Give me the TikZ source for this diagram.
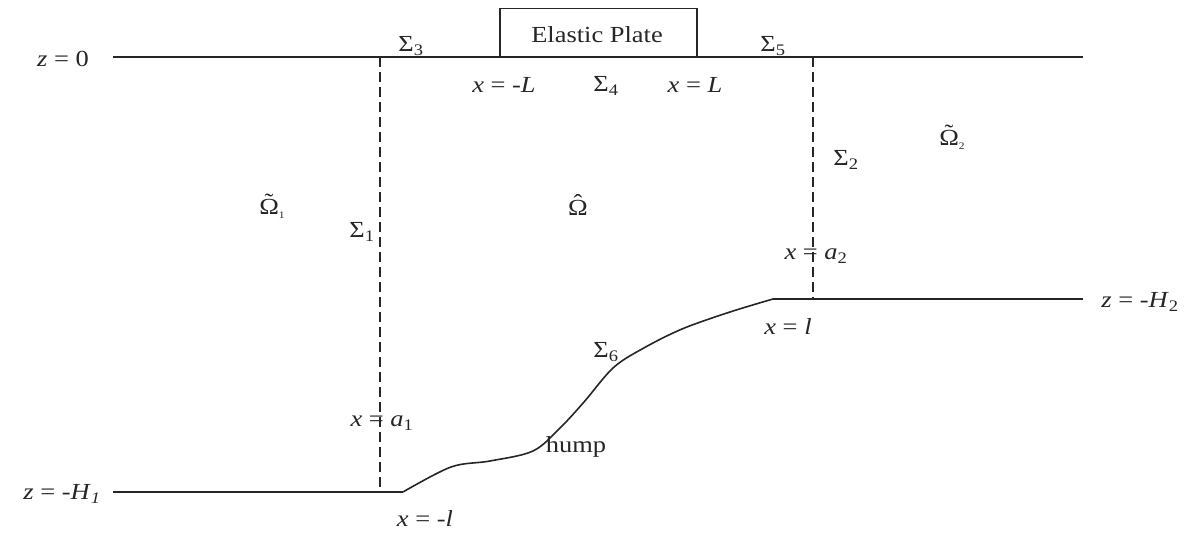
\documentclass[tikz,border=0pt]{standalone}
\usepackage{fontspec}
\setmainfont{Liberation Serif}[FakeStretch=1.15]
\usepackage{tikz}

\definecolor{ink}{gray}{0.15}
\newcommand{\vr}[1]{\textit{#1}}
\newcommand{\accOm}[1]{\ooalign{Ω\cr\hidewidth\raisebox{5pt}{#1}\hidewidth\cr}}
\newcommand{\dom}[1]{\accOm{˜}\raisebox{-4pt}{\fontsize{10}{10}\selectfont #1}}

\begin{document}
\begin{tikzpicture}[x=1pt,y=-1pt,
  every node/.style={font=\fontsize{23}{27}\selectfont, text=ink, inner sep=0pt},
  wall/.style={draw=ink, line width=1.6pt},
  cut/.style={draw=ink, line width=1.5pt, dash pattern=on 10pt off 5pt}]
  \useasboundingbox (0,0) rectangle (1199,537);
  \coordinate (TL) at (113,57);
  \coordinate (TR) at (1083,57);
  \coordinate (A1) at (380,57);
  \coordinate (A2) at (813,57);
  \coordinate (BL) at (113,492);
  \coordinate (K1) at (403,492);
  \coordinate (B1) at (380,492);
  \coordinate (K2) at (773,299);
  \coordinate (B2) at (813,299);
  \coordinate (BR) at (1083,299);
  \draw[wall] (TL) -- (TR);
  \node[draw=ink, line width=1.2pt, minimum width=197pt, minimum height=48pt, anchor=south] (plate) at (598.5,57) {};
  \node at (597,35) {Elastic Plate};
  \draw[cut] (A1) -- (B1);
  \draw[cut] (A2) -- (B2);
  \draw[wall] (BL) -- (K1);
  \draw[wall] plot[smooth, tension=0.55] coordinates {(403,492) (451,467) (490,461) (533,451) (560,428) (584,402) (613,368) (642,349) (682,329) (730,312) (773,299)};
  \draw[wall] (K2) -- (BR);
  \node at (63,59) {\vr{z} = 0};
  \node at (62,494) {\vr{z} = -\vr{H}\textsubscript{\textit{1}}};
  \node at (1140,302) {\vr{z} = -\vr{H}\textsubscript{2}};
  \node at (411,46) {Σ\textsubscript{3}};
  \node at (773,46) {Σ\textsubscript{5}};
  \node at (504,85) {\vr{x} = -\vr{L}};
  \node at (606,86) {Σ\textsubscript{4}};
  \node at (695,85) {\vr{x} = \vr{L}};
  \node at (846,160) {Σ\textsubscript{2}};
  \node at (952,140) {\dom{2}};
  \node at (272,209) {\dom{1}};
  \node at (362,232) {Σ\textsubscript{1}};
  \node at (578,208) {\accOm{ˆ}};
  \node at (816,256) {\vr{x} = \vr{a}\textsubscript{2}};
  \node at (788,327) {\vr{x} = \vr{l}};
  \node at (606,352) {Σ\textsubscript{6}};
  \node at (382,423) {\vr{x} = \vr{a}\textsubscript{1}};
  \node at (576,447) {hump};
  \node at (425,519) {\vr{x} = -\vr{l}};
\end{tikzpicture}
\end{document}
